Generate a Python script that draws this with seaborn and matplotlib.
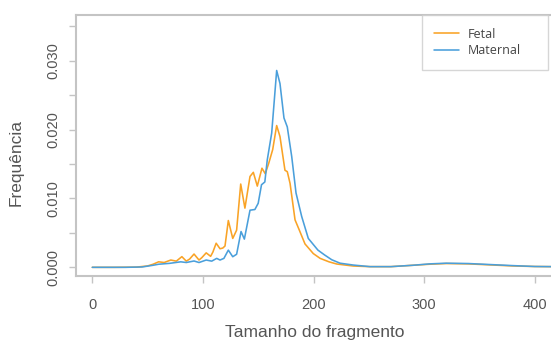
import matplotlib
matplotlib.use("Agg")
import matplotlib.pyplot as plt
import seaborn as sns
import pandas as pd
from matplotlib.ticker import MultipleLocator
from matplotlib.lines import Line2D

# ---- data ----
fetal_x = [0, 20, 40, 50, 55, 60, 65, 71, 76, 81, 85, 88, 92, 96.5, 99, 103, 107, 109,
           112, 115.5, 118, 120, 123, 127, 130.5, 134.2, 138, 142.6, 145.6, 149.2,
           153.4, 156.4, 159.5, 163.1, 166.7, 169.7, 174.2, 176.3, 178.8, 183.3,
           187.2, 192.3, 199.8, 206, 214, 221, 236, 251, 270, 290, 305, 320, 340,
           360, 380, 400, 415]
fetal_y = [0, 0, 0.00003, 0.0002, 0.00045, 0.0008, 0.0007, 0.00106, 0.0009, 0.00155,
           0.0009, 0.0012, 0.00193, 0.00106, 0.0014, 0.0021, 0.0016, 0.0022, 0.0035,
           0.0027, 0.0028, 0.0031, 0.0068, 0.0042, 0.0054, 0.0121, 0.0086, 0.0132,
           0.0138, 0.0118, 0.0144, 0.0136, 0.0151, 0.0171, 0.0206, 0.0190, 0.0141,
           0.0139, 0.0122, 0.0069, 0.0054, 0.0034, 0.0020, 0.0013, 0.0008, 0.00048,
           0.00019, 0.0001, 0.0001, 0.0003, 0.00045, 0.00055, 0.0005, 0.00035,
           0.0002, 0.00012, 0.0001]

maternal_x = [0, 30, 45, 55, 60, 70, 80, 85, 92, 96.5, 103, 108, 112.5, 115.5, 119, 123,
              127, 130.5, 134.5, 137.5, 142.6, 147, 150, 153, 156, 158.2, 162.2, 166.7,
              169.7, 173.3, 176.3, 180.3, 184.2, 189.3, 195.3, 204, 210, 216.5, 224,
              236, 251, 270, 290, 305, 320, 340, 360, 380, 400, 415]
maternal_y = [0, 0, 0.00005, 0.0003, 0.00045, 0.00058, 0.0008, 0.0007, 0.00092, 0.0007,
              0.00106, 0.0009, 0.0013, 0.00106, 0.0013, 0.0025, 0.00154, 0.0019, 0.0052,
              0.0041, 0.0083, 0.0084, 0.0093, 0.0120, 0.0124, 0.0156, 0.0195, 0.0286,
              0.0267, 0.0217, 0.0204, 0.0161, 0.0108, 0.0074, 0.0042, 0.0025, 0.0018,
              0.0011, 0.0006, 0.00033, 0.0001, 0.0001, 0.0003, 0.0005, 0.0006, 0.00055,
              0.0004, 0.00025, 0.00012, 0.0001]

series_names = ["Fetal", "Maternal"]
colors = ["#F9A326", "#4A9FDB"]
x_ticks = [0, 100, 200, 300, 400]
y_ticks = [0.000, 0.010, 0.020, 0.030]

df = pd.concat([
    pd.DataFrame({"Tamanho": fetal_x, "Freq": fetal_y, "Tipo": series_names[0]}),
    pd.DataFrame({"Tamanho": maternal_x, "Freq": maternal_y, "Tipo": series_names[1]}),
], ignore_index=True)

sns.set_theme(style="white")
plt.rcParams["font.family"] = ["Liberation Sans", "DejaVu Sans"]

fig = plt.figure(figsize=(5.51, 3.40), dpi=100)
ax = fig.add_axes([76 / 551, 1 - 276 / 340, 1 - 76 / 551, (276 - 15) / 340])

sns.lineplot(data=df, x="Tamanho", y="Freq", hue="Tipo", palette=dict(zip(series_names, colors)),
             linewidth=1.15, ax=ax, legend=False, sort=True)

ax.set_xlim(-14.7, 414.7)
ax.set_ylim(-0.00126, 0.03666)

spine_col = "#C4C4C4"
for s in ["left", "bottom", "top"]:
    ax.spines[s].set_visible(True)
    ax.spines[s].set_color(spine_col)
    ax.spines[s].set_linewidth(1.5)
ax.spines["right"].set_visible(False)

ax.set_xticks(x_ticks)
ax.set_yticks(y_ticks)
ax.yaxis.set_minor_locator(MultipleLocator(0.005))
ax.set_yticklabels([f"{v:.3f}" for v in y_ticks], rotation=90, va="center")
ax.tick_params(axis="both", which="both", direction="out", length=5, width=1,
               color=spine_col, labelcolor="#555555", labelsize=10.5, left=True, bottom=True)
ax.tick_params(axis="y", which="major", pad=6.5)
ax.tick_params(axis="x", which="major", pad=11)

ax.set_xlabel("Tamanho do fragmento", fontsize=12.5, color="#555555")
ax.set_ylabel("Frequência", fontsize=12.5, color="#555555")
ax.xaxis.set_label_coords((314.5 - 76) / 475, -(325.5 - 276) / 261)
ax.yaxis.set_label_coords(-(76 - 24) / 475, (276 - 162) / 261)

handles = [Line2D([], [], color=c, lw=1.15) for c in colors]
leg = ax.legend(handles, series_names, loc="upper left",
                bbox_to_anchor=((421.7 - 76) / 475, 0, (548 - 421.7) / 475, 1.0),
                mode="expand", borderaxespad=0, frameon=True, fancybox=False,
                handlelength=2.0, handletextpad=0.65, labelspacing=0.3, borderpad=1.0,
                prop={"family": ["Open Sans", "DejaVu Sans"], "size": 9})
leg.get_frame().set_edgecolor("#CCCCCC")
leg.get_frame().set_linewidth(1.0)
for t in leg.get_texts():
    t.set_color("#444444")

fig.savefig("out.png", dpi=100)
